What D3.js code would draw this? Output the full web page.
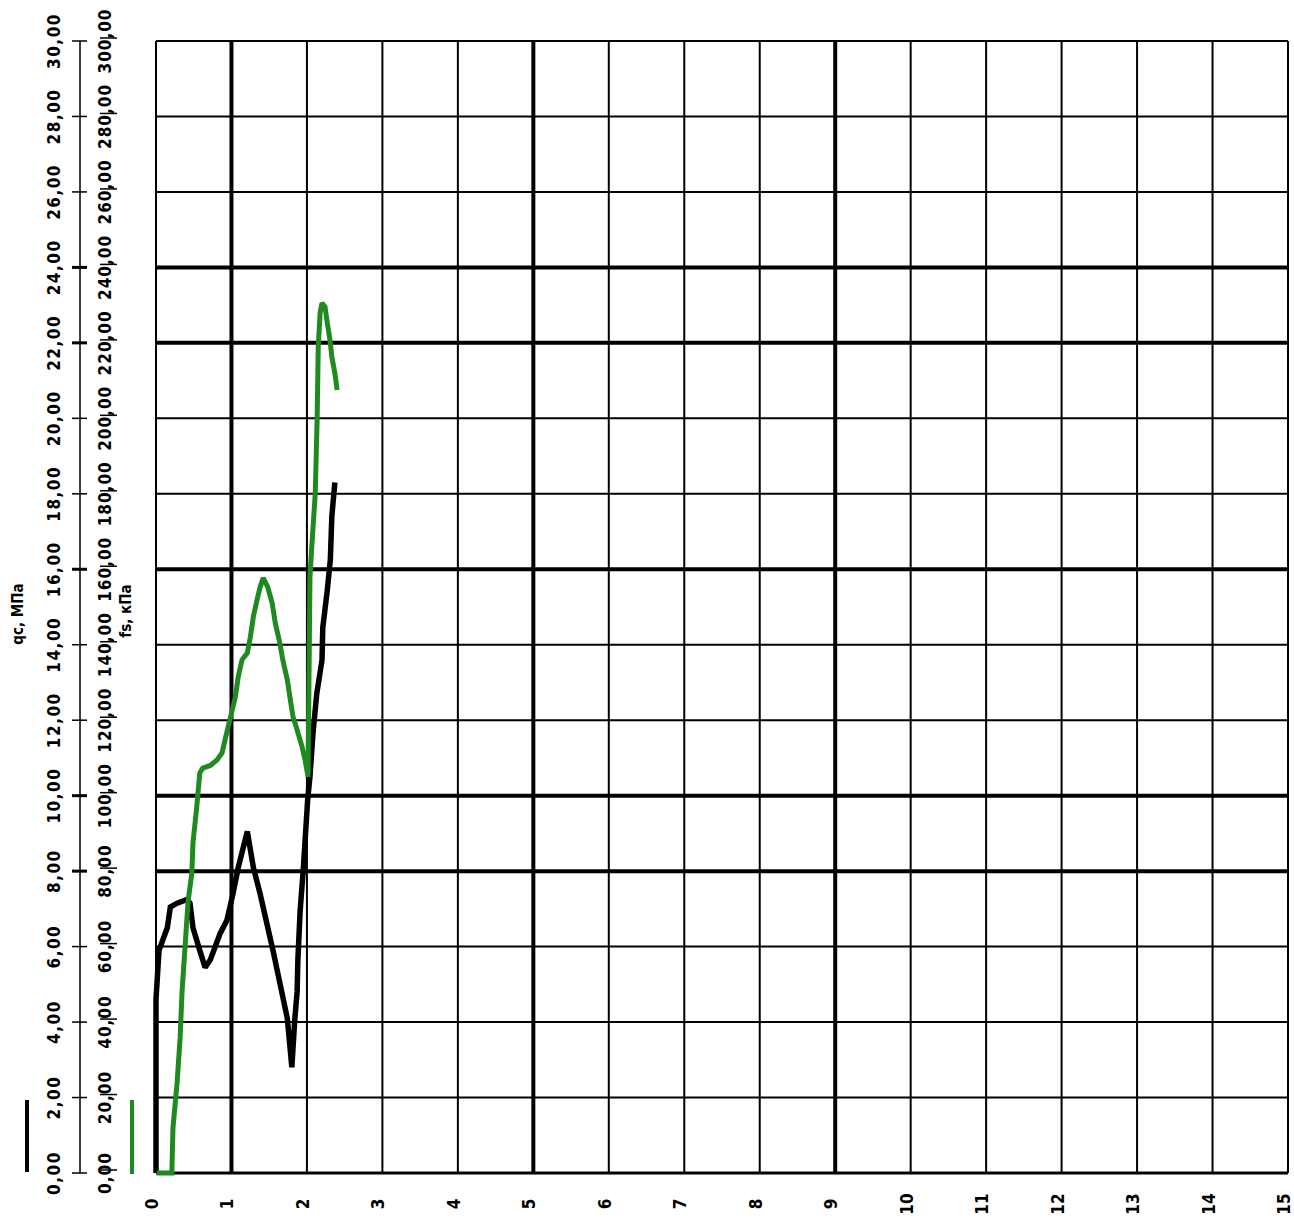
<!DOCTYPE html>
<html>
<head>
<meta charset="utf-8">
<script src="https://cdn.jsdelivr.net/npm/d3@7/dist/d3.min.js"></script>
<style>
  html, body { margin: 0; padding: 0; background: #fff; }
  svg { display: block; }
  text { font-family: "DejaVu Sans Condensed", "DejaVu Sans", sans-serif; font-weight: bold; fill: #000; }
</style>
</head>
<body>
<script>
// Depth axis (m) and value axes
const depthTicks = d3.range(0, 16);          // 0 .. 15
const qcTicks = d3.range(0, 31, 2);          // 0 .. 30 MPa
const fsTicks = d3.range(0, 301, 20);        // 0 .. 300 kPa
const heavyDepth = [1, 5, 9];
const heavyQc = [8, 10, 16, 22, 24];

// Cone resistance qc (MPa) by depth
const qcDepth = [0, 0, 0.04, 0.15, 0.19, 0.28, 0.41, 0.45, 0.49, 0.58, 0.65, 0.72, 0.85, 0.94, 1.02, 1.09,
  1.21, 1.29, 1.38, 1.47, 1.55, 1.64, 1.74, 1.80, 1.84, 1.87, 1.88, 1.91, 1.95, 2.01, 2.04, 2.08,
  2.13, 2.20, 2.21, 2.27, 2.31, 2.33, 2.37];
const qcValues = [0, 4.6, 5.9, 6.5, 7.05, 7.15, 7.25, 7.15, 6.5, 5.9, 5.45, 5.65, 6.35, 6.7, 7.4, 8.1,
  9.05, 8.1, 7.4, 6.6, 5.9, 5.05, 4.1, 2.8, 4.1, 4.8, 5.65, 6.95, 8.0, 9.9, 10.5, 11.65,
  12.7, 13.6, 14.45, 15.45, 16.25, 17.4, 18.3];

// Sleeve friction fs (kPa) by depth
const fsDepth = [0.01, 0.21, 0.225, 0.28, 0.32, 0.345, 0.385, 0.425, 0.475, 0.49, 0.54, 0.58, 0.62, 0.72,
  0.81, 0.875, 0.915, 0.955, 1.01, 1.05, 1.09, 1.14, 1.21, 1.25, 1.29, 1.34, 1.38, 1.42, 1.48,
  1.54, 1.58, 1.64, 1.68, 1.74, 1.78, 1.815, 1.87, 1.935, 1.975, 2.015, 2.04, 2.07, 2.11,
  2.135, 2.15, 2.175, 2.20, 2.24, 2.27, 2.305, 2.33, 2.37, 2.40];
const fsValues = [0, 0, 12, 24, 36, 48, 60, 72, 79.5, 87.5, 97, 106, 107.3, 108, 109.5, 111.3, 114.8,
  118.2, 122.7, 126, 131.5, 136, 137.8, 142, 147.4, 152, 155.3, 157.7, 155.3, 151, 145.8,
  140.5, 136, 130.7, 125.4, 121, 117.4, 113, 109.5, 105, 158, 167.8, 180, 199.6, 219,
  228, 230.6, 229.5, 225.3, 220.8, 216.3, 212, 207.5];

const W = 1294, H = 1218;
const svg = d3.select("body").append("svg").attr("width", W).attr("height", H);
svg.append("rect").attr("width", W).attr("height", H).attr("fill", "#fff");

const x = d3.scaleLinear().domain([0, 15]).range([156, 1288]);
const yQc = d3.scaleLinear().domain([0, 30]).range([1173, 41]);
const yFs = d3.scaleLinear().domain([0, 300]).range([1173, 41]);

const fmt = v => d3.format(".2f")(v).replace(".", ",");

// Grid
const grid = svg.append("g");
grid.selectAll("line.v").data(depthTicks).join("line")
  .attr("x1", d => x(d)).attr("x2", d => x(d))
  .attr("y1", yQc(30)).attr("y2", yQc(0))
  .attr("stroke", "#000")
  .attr("stroke-width", d => heavyDepth.includes(d) ? 4 : 2);
grid.selectAll("line.h").data(qcTicks).join("line")
  .attr("x1", x(0)).attr("x2", x(15))
  .attr("y1", d => yQc(d)).attr("y2", d => yQc(d))
  .attr("stroke", "#000")
  .attr("stroke-width", d => heavyQc.includes(d) ? 4 : (d === 0 ? 3 : 2));

// qc axis (line with crossing ticks)
const qcAxis = svg.append("g");
qcAxis.append("line").attr("x1", 80).attr("x2", 80)
  .attr("y1", yQc(30)).attr("y2", yQc(0)).attr("stroke", "#000").attr("stroke-width", 1.5);
qcAxis.selectAll("line.t").data(qcTicks).join("line")
  .attr("x1", 72).attr("x2", 87)
  .attr("y1", d => yQc(d)).attr("y2", d => yQc(d))
  .attr("stroke", "#000")
  .attr("stroke-width", d => heavyQc.includes(d) ? 3 : 1.5);
qcAxis.selectAll("text").data(qcTicks).join("text")
  .attr("transform", d => `translate(54,${yQc(d)}) rotate(-90)`)
  .attr("text-anchor", "middle").attr("dominant-baseline", "central")
  .attr("font-size", 17).attr("letter-spacing", 1.5)
  .text(fmt);

// fs axis (ticks only)
const fsAxis = svg.append("g");
fsAxis.selectAll("line.t").data(fsTicks).join("line")
  .attr("x1", 100).attr("x2", 117)
  .attr("y1", d => yFs(d) - 3).attr("y2", d => yFs(d) - 3)
  .attr("stroke", "#000").attr("stroke-width", 1.5);
fsAxis.selectAll("text").data(fsTicks).join("text")
  .attr("transform", d => `translate(105,${yFs(d)}) rotate(-90)`)
  .attr("text-anchor", "middle").attr("dominant-baseline", "central")
  .attr("font-size", 17).attr("letter-spacing", 1)
  .text(fmt);

// Depth axis labels
svg.append("g").selectAll("text").data(depthTicks).join("text")
  .attr("transform", d => `translate(${x(d) - 4},1204) rotate(-90)`)
  .attr("text-anchor", "middle").attr("dominant-baseline", "central")
  .attr("font-size", 17)
  .text(d => d);

// Axis titles
svg.append("text").attr("transform", "translate(18,614) rotate(-90)")
  .attr("text-anchor", "middle").attr("dominant-baseline", "central")
  .attr("font-size", 15).text("qc, МПа");
svg.append("text").attr("transform", "translate(126,611) rotate(-90)")
  .attr("text-anchor", "middle").attr("dominant-baseline", "central")
  .attr("font-size", 15).text("fs, кПа");

// Legend swatches
const green = "#1f8a1f";
svg.append("line").attr("x1", 27).attr("x2", 27).attr("y1", 1100).attr("y2", 1172)
  .attr("stroke", "#000").attr("stroke-width", 4);
svg.append("line").attr("x1", 132).attr("x2", 132).attr("y1", 1100).attr("y2", 1174)
  .attr("stroke", green).attr("stroke-width", 4);

// Series
const qcLine = d3.line().x((d, i) => x(qcDepth[i])).y(d => yQc(d));
const fsLine = d3.line().x((d, i) => x(fsDepth[i])).y(d => yFs(d));

svg.append("path").datum(qcValues).attr("d", qcLine)
  .attr("fill", "none").attr("stroke", "#000").attr("stroke-width", 5.5)
  .attr("stroke-linejoin", "miter").attr("stroke-miterlimit", 2);
svg.append("path").datum(fsValues).attr("d", fsLine)
  .attr("fill", "none").attr("stroke", green).attr("stroke-width", 5)
  .attr("stroke-linejoin", "miter").attr("stroke-miterlimit", 2);
</script>
</body>
</html>
